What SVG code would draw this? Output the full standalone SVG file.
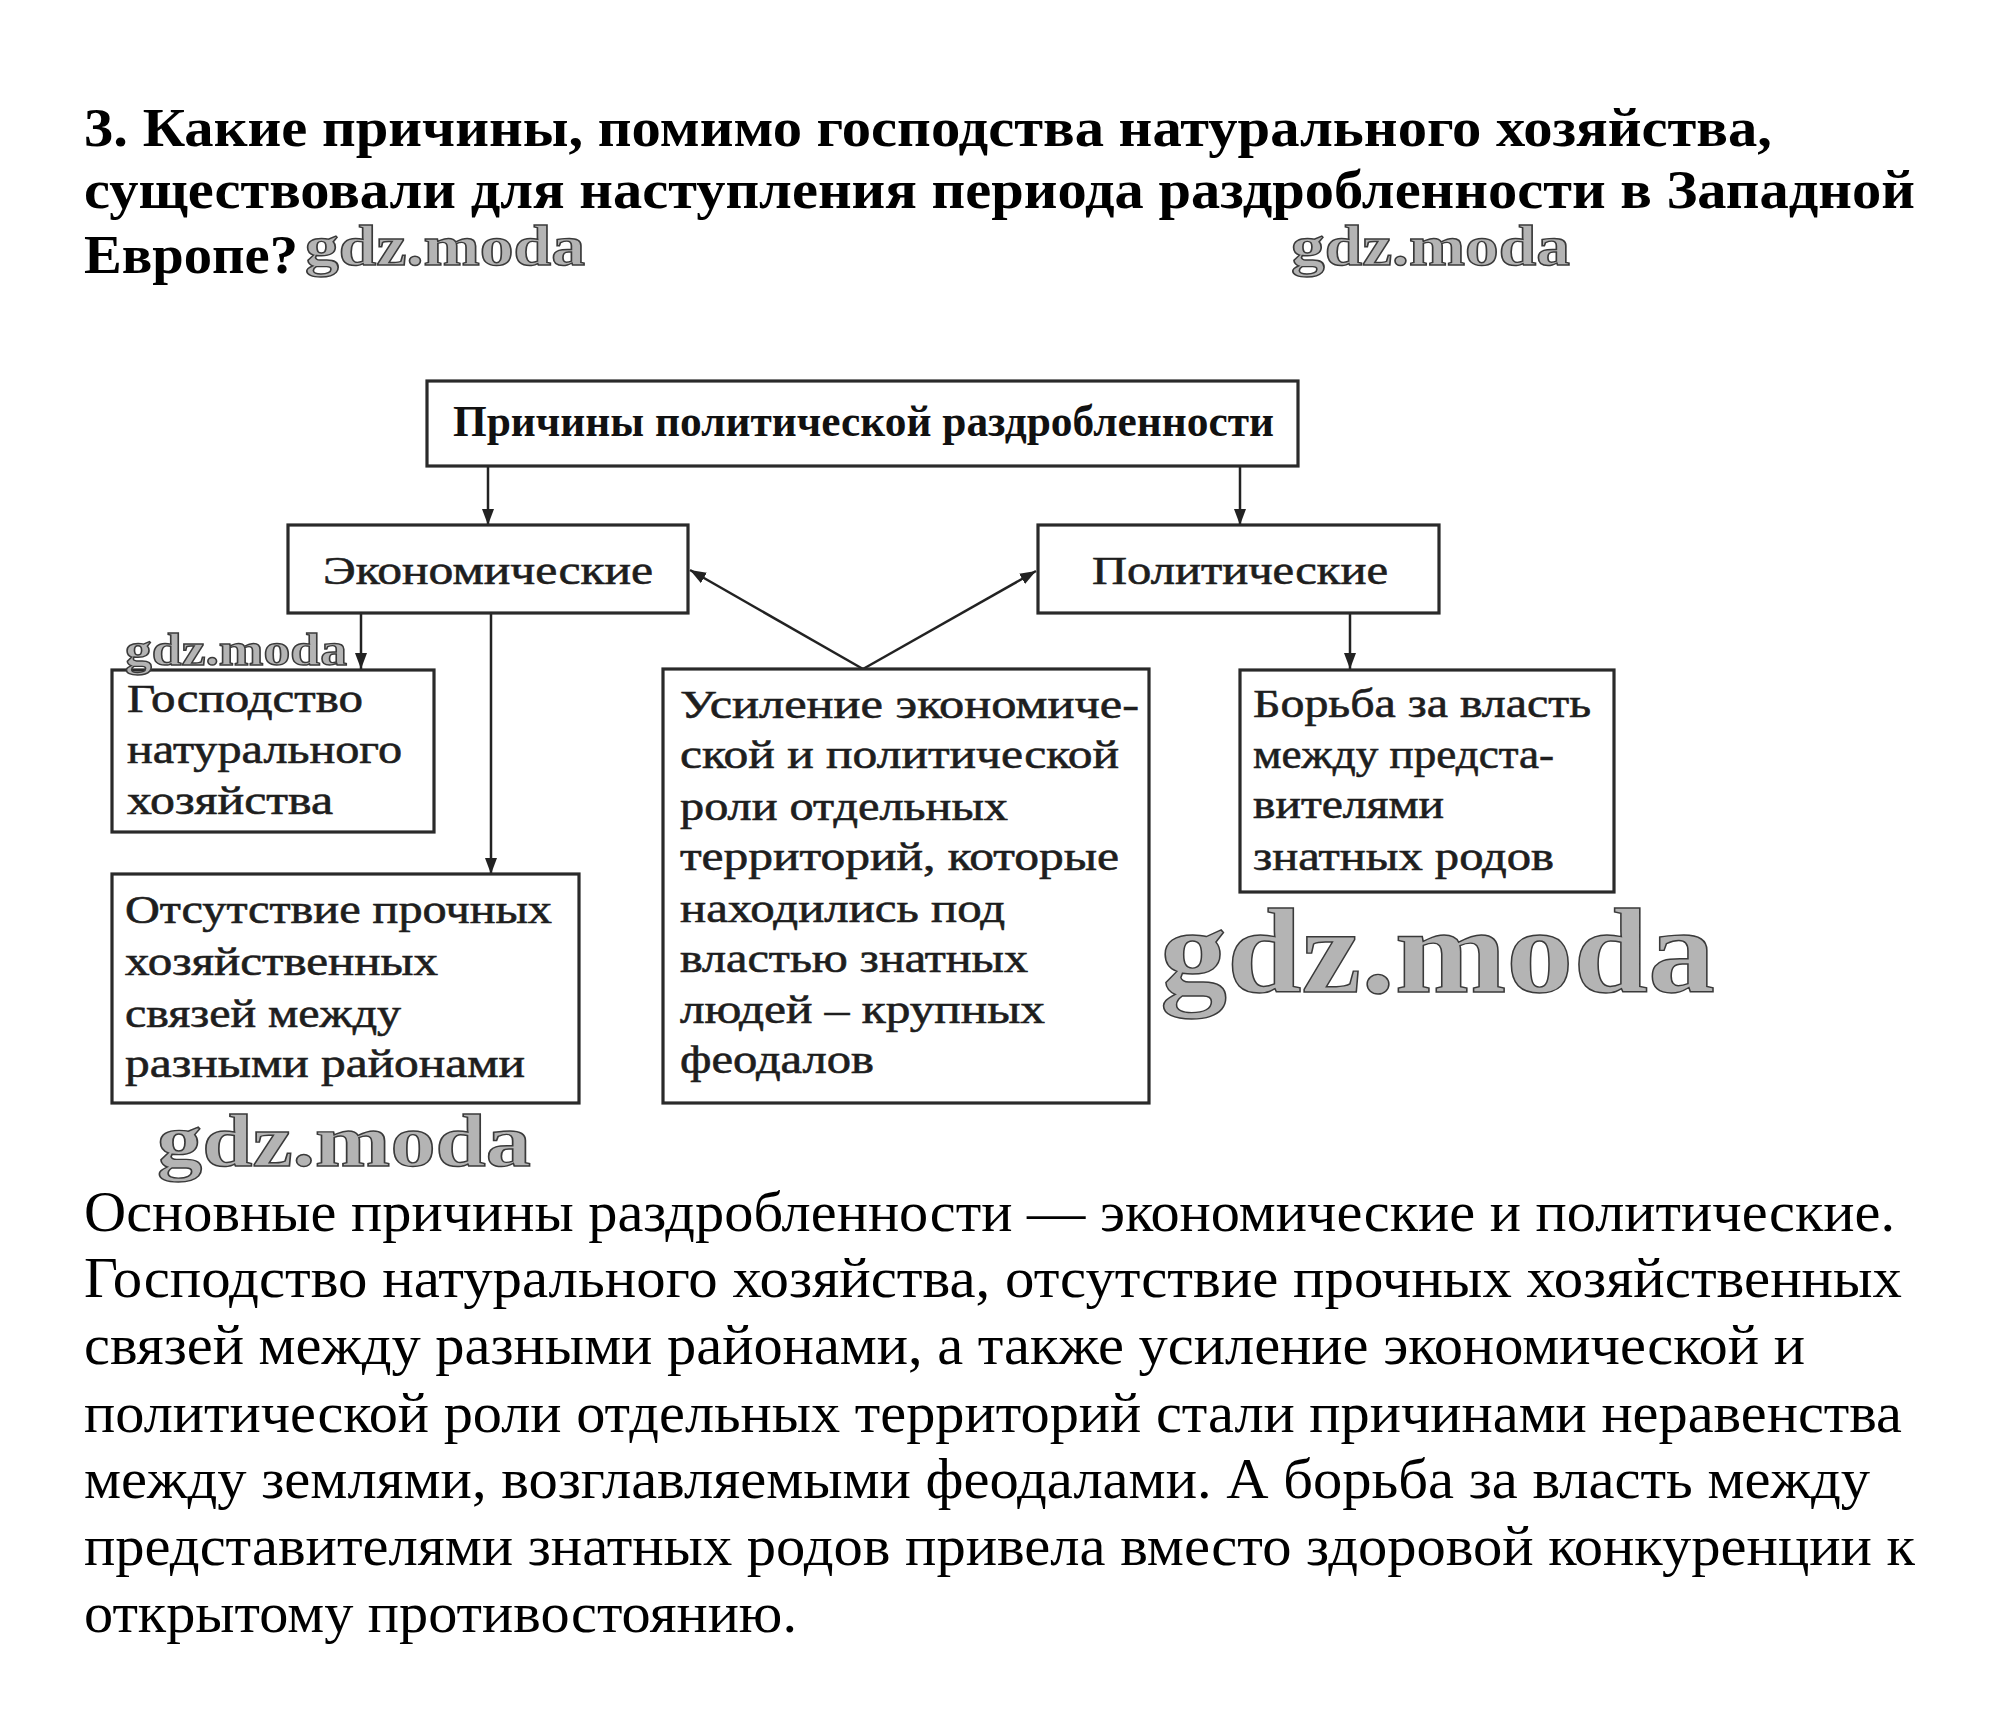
<svg xmlns="http://www.w3.org/2000/svg" width="2015" height="1722" viewBox="0 0 2015 1722">
<defs>
<marker id="ah" markerUnits="userSpaceOnUse" markerWidth="18" markerHeight="14" refX="16" refY="6" orient="auto">
<path d="M0,0 L16,6 L0,12 Z" fill="#222"/>
</marker>
<style>
.q{font-family:"Liberation Serif","Times New Roman",serif;font-weight:bold;font-size:54px;fill:#000}
.p{font-family:"Liberation Serif","Times New Roman",serif;font-size:57px;fill:#000}
.b{font-family:"Liberation Serif","Times New Roman",serif;font-size:40px;fill:#1e1e1e;stroke:#1e1e1e;stroke-width:0.6}
.hb{font-family:"Liberation Serif","Times New Roman",serif;font-size:44px;font-weight:bold;fill:#111}
.box{fill:#fff;stroke:#2a2a2a;stroke-width:3.2}
.c{stroke:#222;stroke-width:2.5;fill:none;marker-end:url(#ah)}
.wm{font-family:"Liberation Serif","Times New Roman",serif;font-weight:bold;fill:#b4b4b4;stroke:#3a3a3a;stroke-width:1.4}
</style>
</defs>
<rect width="2015" height="1722" fill="#fff"/>

<g id="question">
<text class="q" x="84" y="146" textLength="1688" lengthAdjust="spacingAndGlyphs">3. Какие причины, помимо господства натурального хозяйства,</text>
<text class="q" x="84" y="208" textLength="1831" lengthAdjust="spacingAndGlyphs">существовали для наступления периода раздробленности в Западной</text>
<text class="q" x="84" y="273" textLength="214" lengthAdjust="spacingAndGlyphs">Европе?</text>
</g>

<g id="connectors">
<line class="c" x1="488" y1="467" x2="488" y2="525"/>
<line class="c" x1="1240" y1="467" x2="1240" y2="525"/>
<line class="c" x1="361" y1="613" x2="361" y2="669"/>
<line class="c" x1="491" y1="613" x2="491" y2="874"/>
<line class="c" x1="1350" y1="613" x2="1350" y2="669"/>
<line class="c" x1="863" y1="669" x2="690" y2="570"/>
<line class="c" x1="863" y1="669" x2="1036" y2="571"/>
</g>

<g id="node-root">
<rect class="box" x="427" y="381" width="871" height="85"/>
<text class="hb" x="453" y="436" textLength="821" lengthAdjust="spacingAndGlyphs">Причины политической раздробленности</text>
</g>

<g id="node-econ">
<rect class="box" x="288" y="525" width="400" height="88"/>
<text class="b" x="323" y="584" textLength="330" lengthAdjust="spacingAndGlyphs">Экономические</text>
</g>

<g id="node-polit">
<rect class="box" x="1038" y="525" width="401" height="88"/>
<text class="b" x="1092" y="584" textLength="296" lengthAdjust="spacingAndGlyphs">Политические</text>
</g>

<g id="node-natural">
<rect class="box" x="112" y="670" width="322" height="162"/>
<text class="b" x="127" y="712" textLength="236" lengthAdjust="spacingAndGlyphs">Господство</text>
<text class="b" x="127" y="763" textLength="275" lengthAdjust="spacingAndGlyphs">натурального</text>
<text class="b" x="127" y="814" textLength="206" lengthAdjust="spacingAndGlyphs">хозяйства</text>
</g>

<g id="node-links">
<rect class="box" x="112" y="874" width="467" height="229"/>
<text class="b" x="125" y="923" textLength="427" lengthAdjust="spacingAndGlyphs">Отсутствие прочных</text>
<text class="b" x="125" y="975" textLength="313" lengthAdjust="spacingAndGlyphs">хозяйственных</text>
<text class="b" x="125" y="1027" textLength="276" lengthAdjust="spacingAndGlyphs">связей между</text>
<text class="b" x="125" y="1077" textLength="400" lengthAdjust="spacingAndGlyphs">разными районами</text>
</g>

<g id="node-territories">
<rect class="box" x="663" y="669" width="486" height="434"/>
<text class="b" x="680" y="718" textLength="459" lengthAdjust="spacingAndGlyphs">Усиление экономиче-</text>
<text class="b" x="680" y="768" textLength="439" lengthAdjust="spacingAndGlyphs">ской и политической</text>
<text class="b" x="680" y="820" textLength="328" lengthAdjust="spacingAndGlyphs">роли отдельных</text>
<text class="b" x="680" y="870" textLength="439" lengthAdjust="spacingAndGlyphs">территорий, которые</text>
<text class="b" x="680" y="922" textLength="325" lengthAdjust="spacingAndGlyphs">находились под</text>
<text class="b" x="680" y="972" textLength="348" lengthAdjust="spacingAndGlyphs">властью знатных</text>
<text class="b" x="680" y="1023" textLength="365" lengthAdjust="spacingAndGlyphs">людей – крупных</text>
<text class="b" x="680" y="1073" textLength="194" lengthAdjust="spacingAndGlyphs">феодалов</text>
</g>

<g id="node-struggle">
<rect class="box" x="1240" y="670" width="374" height="222"/>
<text class="b" x="1253" y="717" textLength="338" lengthAdjust="spacingAndGlyphs">Борьба за власть</text>
<text class="b" x="1253" y="768" textLength="301" lengthAdjust="spacingAndGlyphs">между предста-</text>
<text class="b" x="1253" y="818" textLength="191" lengthAdjust="spacingAndGlyphs">вителями</text>
<text class="b" x="1253" y="870" textLength="301" lengthAdjust="spacingAndGlyphs">знатных родов</text>
</g>

<g id="answer">
<text class="p" x="84" y="1231" textLength="1811" lengthAdjust="spacingAndGlyphs">Основные причины раздробленности — экономические и политические.</text>
<text class="p" x="84" y="1297" textLength="1818" lengthAdjust="spacingAndGlyphs">Господство натурального хозяйства, отсутствие прочных хозяйственных</text>
<text class="p" x="84" y="1364" textLength="1721" lengthAdjust="spacingAndGlyphs">связей между разными районами, а также усиление экономической и</text>
<text class="p" x="84" y="1432" textLength="1818" lengthAdjust="spacingAndGlyphs">политической роли отдельных территорий стали причинами неравенства</text>
<text class="p" x="84" y="1498" textLength="1786" lengthAdjust="spacingAndGlyphs">между землями, возглавляемыми феодалами. А борьба за власть между</text>
<text class="p" x="84" y="1565" textLength="1831" lengthAdjust="spacingAndGlyphs">представителями знатных родов привела вместо здоровой конкуренции к</text>
<text class="p" x="84" y="1632" textLength="713" lengthAdjust="spacingAndGlyphs">открытому противостоянию.</text>
</g>

<g id="watermarks">
<text class="wm" x="305" y="265" font-size="56" textLength="280" lengthAdjust="spacingAndGlyphs">gdz.moda</text>
<text class="wm" x="1291" y="265" font-size="56" textLength="279" lengthAdjust="spacingAndGlyphs">gdz.moda</text>
<text class="wm" x="125" y="665" font-size="46" textLength="222" lengthAdjust="spacingAndGlyphs">gdz.moda</text>
<text class="wm" x="1160" y="992" font-size="120" stroke-width="2" textLength="555" lengthAdjust="spacingAndGlyphs">gdz.moda</text>
<text class="wm" x="157" y="1166" font-size="74" stroke-width="1.8" textLength="374" lengthAdjust="spacingAndGlyphs">gdz.moda</text>
</g>
</svg>
